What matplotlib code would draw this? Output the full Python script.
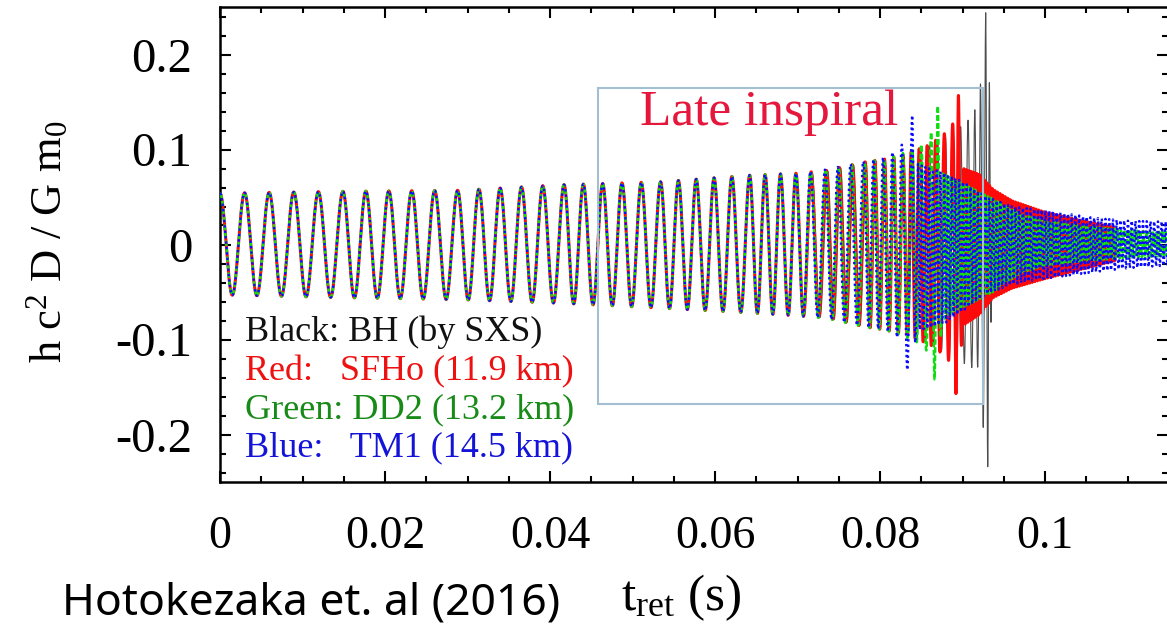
import matplotlib
matplotlib.use("Agg")
import matplotlib.pyplot as plt
import matplotlib.ticker as mticker
from matplotlib.patches import Rectangle
import numpy as np

plt.rcParams["font.family"] = ["Liberation Serif", "DejaVu Serif"]
plt.rcParams["mathtext.fontset"] = "custom"
plt.rcParams["mathtext.rm"] = "Liberation Serif"
plt.rcParams["mathtext.it"] = "Liberation Serif:italic"
plt.rcParams["axes.unicode_minus"] = False

# ---- values ----
# early inspiral, shared by all four runs: knot time (s), counted GW cycles, envelope (+/-)
insp_t = [0.0, 0.0149, 0.0288, 0.0417, 0.0534, 0.0642, 0.0698]
insp_cycles = [0.0, 5.0, 10.0, 15.0, 20.0, 25.0, 28.0]
insp_up = [0.054, 0.056, 0.057, 0.063, 0.066, 0.073, 0.075]
insp_dn = [0.053, 0.056, 0.058, 0.062, 0.067, 0.072, 0.075]

# Black: BH (SXS) -- late inspiral, merger spike, ringdown
bh_t = [0.0735, 0.0782, 0.0806, 0.0840, 0.0870, 0.0895, 0.0912, 0.0919, 0.0925, 0.0928, 0.0931, 0.0935, 0.0940]
bh_cycles = [29.9, 32.9, 35.0, 38.0, 41.0, 43.7, 45.6, 46.6, 47.5, 48.0, 48.6, 49.6, 51.0]
bh_up = [0.077, 0.086, 0.090, 0.097, 0.108, 0.122, 0.135, 0.152, 0.190, 0.244, 0.240, 0.060, 0.0]
bh_dn = [0.077, 0.086, 0.090, 0.097, 0.108, 0.122, 0.130, 0.129, 0.192, 0.234, 0.234, 0.060, 0.0]

# Red: SFHo (11.9 km)
sfho_t = [0.0735, 0.0782, 0.0806, 0.0830, 0.0860, 0.0880, 0.0889, 0.0892, 0.0895, 0.0901,
          0.0920, 0.0937, 0.0960, 0.1000, 0.1040, 0.1085]
sfho_cycles = [30.0, 33.0, 35.05, 37.2, 40.3, 42.2, 43.1, 43.5, 44.0, 44.8,
               50.9, 56.3, 63.7, 76.5, 89.3, 103.7]
sfho_up = [0.078, 0.087, 0.090, 0.095, 0.105, 0.118, 0.128, 0.140, 0.157, 0.080,
           0.074, 0.058, 0.046, 0.034, 0.026, 0.018]
sfho_dn = [0.077, 0.087, 0.090, 0.095, 0.105, 0.118, 0.130, 0.157, 0.140, 0.085,
           0.074, 0.056, 0.046, 0.036, 0.027, 0.017]

# Green: DD2 (13.2 km)
dd2_t = [0.0735, 0.0782, 0.0806, 0.0830, 0.0850, 0.0862, 0.0866, 0.0870, 0.0876, 0.0890,
         0.0910, 0.0937, 0.0970, 0.1000, 0.1050, 0.1100, 0.1150]
dd2_cycles = [30.05, 33.05, 35.1, 37.2, 39.0, 40.0, 40.5, 41.0, 41.8, 45.4,
              50.6, 57.6, 66.2, 74.0, 87.0, 100.0, 113.0]
dd2_up = [0.079, 0.087, 0.090, 0.097, 0.105, 0.118, 0.125, 0.146, 0.075, 0.068,
          0.060, 0.048, 0.032, 0.025, 0.019, 0.015, 0.013]
dd2_dn = [0.078, 0.087, 0.090, 0.097, 0.105, 0.118, 0.142, 0.125, 0.080, 0.070,
          0.062, 0.050, 0.030, 0.022, 0.017, 0.014, 0.012]

# Blue: TM1 (14.5 km)
tm1_t = [0.0735, 0.0782, 0.0806, 0.0825, 0.0833, 0.0839, 0.0845, 0.0860, 0.0880, 0.0900,
         0.0930, 0.0960, 0.1000, 0.1060, 0.1100, 0.1150]
tm1_cycles = [30.1, 33.15, 35.2, 36.9, 37.5, 38.0, 38.8, 42.1, 46.5, 50.9,
              57.5, 64.1, 72.9, 86.1, 94.9, 105.9]
tm1_up = [0.079, 0.088, 0.092, 0.103, 0.115, 0.136, 0.085, 0.080, 0.075, 0.066,
          0.050, 0.040, 0.036, 0.028, 0.025, 0.024]
tm1_dn = [0.078, 0.087, 0.090, 0.100, 0.132, 0.125, 0.090, 0.088, 0.082, 0.070,
          0.052, 0.042, 0.036, 0.029, 0.025, 0.022]

legend_lines = ["Black: BH (by SXS)", "Red:   SFHo (11.9 km)", "Green: DD2 (13.2 km)", "Blue:   TM1 (14.5 km)"]
legend_colors = ["#111111", "#ee1111", "#178a17", "#1414d8"]

x_ticks = [0, 0.02, 0.04, 0.06, 0.08, 0.1]
y_ticks = [-0.2, -0.1, 0, 0.1, 0.2]


def strain(knot_t, knot_cycles, up, dn, n=24000):
    """h(t) rebuilt from the counted cycles and the read envelope."""
    kt = np.array(insp_t + knot_t)
    t = np.linspace(0.0, kt[-1], n)
    c = np.cos(2 * np.pi * np.interp(t, kt, insp_cycles + knot_cycles))
    a_up = np.interp(t, kt, insp_up + up)
    a_dn = np.interp(t, kt, insp_dn + dn)
    return t, np.where(c > 0, a_up * c, a_dn * c)


fig = plt.figure(figsize=(11.67, 6.27), dpi=100)
ax = fig.add_axes([220 / 1167, 1 - 482 / 627, 948 / 1167, 475 / 627])

t, h = strain(bh_t, bh_cycles, bh_up, bh_dn)
ax.plot(t, h, color="0.3", lw=0.8, zorder=1)
t, h = strain(sfho_t, sfho_cycles, sfho_up, sfho_dn)
ax.plot(t, h, color="#ff0a0a", lw=2.2, zorder=2)
t, h = strain(dd2_t, dd2_cycles, dd2_up, dd2_dn)
ax.plot(t, h, color="#10dd10", lw=1.8, ls=(0, (2.2, 1.0)), zorder=3)
t, h = strain(tm1_t, tm1_cycles, tm1_up, tm1_dn)
ax.plot(t, h, color="#0a0aff", lw=1.7, ls=(0, (1.0, 1.3)), zorder=4)

# "Late inspiral" box
ax.add_patch(Rectangle((0.0458, -0.1679), 0.0467, 0.3326, fill=False,
                       edgecolor="#a5bfd2", lw=1.5, zorder=6))
ax.text(0.0509, 0.1258, "Late inspiral", color="#e6173d", fontsize=37,
        va="baseline", ha="left", zorder=7)

legend_y = [0.3158, 0.2316, 0.1516, 0.0716]
for txt, col, yy in zip(legend_lines, legend_colors, legend_y):
    ax.text(0.0264, yy, txt, color=col, fontsize=26,
            transform=ax.transAxes, va="center", ha="left", zorder=7)

ax.set_xlim(0, 0.1149)
ax.set_ylim(-0.25, 0.25)
ax.set_xticks(x_ticks)
ax.set_yticks(y_ticks)
fmt = mticker.FuncFormatter(lambda v, p: f"{v:g}")
ax.xaxis.set_major_formatter(fmt)
ax.yaxis.set_major_formatter(fmt)
ax.xaxis.set_minor_locator(mticker.MultipleLocator(0.005))
ax.yaxis.set_minor_locator(mticker.MultipleLocator(0.02))
ax.tick_params(which="both", direction="in", top=True, right=True, width=1.5)
ax.tick_params(which="major", length=8)
ax.tick_params(which="minor", length=4.5)
ax.tick_params(axis="y", which="major", labelsize=35, pad=20)
ax.tick_params(axis="x", which="major", labelsize=33, pad=24)
for s in ax.spines.values():
    s.set_linewidth(1.8)

ax.set_ylabel(r"h c$^2$ D / G m$_0$", fontsize=32, va="center")
ax.yaxis.set_label_coords((48 - 220) / 947, (482 - 242) / 475)
ax.set_xlabel(r"t$_{\rm ret}$ (s)", fontsize=37, va="center")
ax.xaxis.set_label_coords((681 - 220) / 947, (482 - 598) / 475)

fig.text(62 / 1167, 1 - 614 / 627, "Hotokezaka et. al (2016)", family=["Noto Sans", "DejaVu Sans"],
         fontsize=32, va="baseline", ha="left")

fig.savefig("out.png", dpi=100)
